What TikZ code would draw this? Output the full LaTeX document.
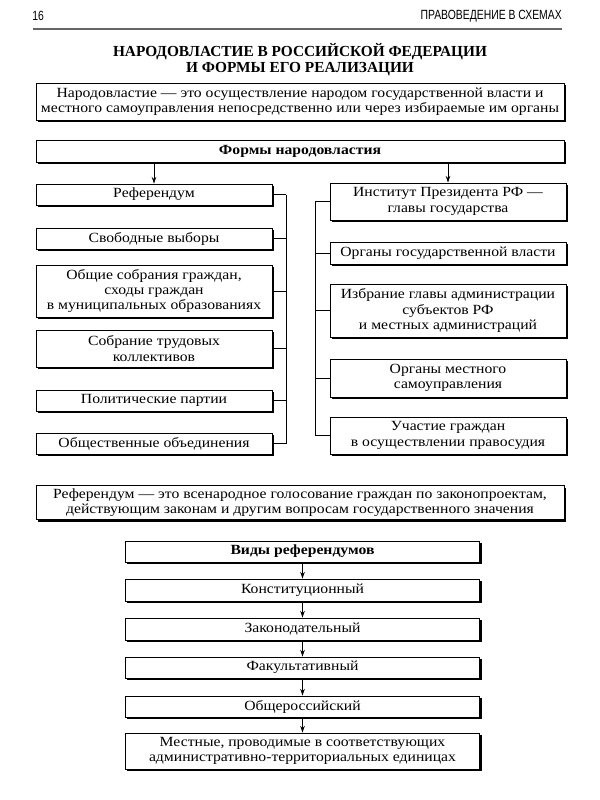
\documentclass[tikz,border=0pt]{standalone}
\usepackage{fontspec}
\setmainfont[FakeStretch=1.12]{Liberation Serif}
\newfontfamily\titlefont{Liberation Serif}
\newfontfamily\headfont[FakeStretch=0.78]{Liberation Sans}
\usetikzlibrary{shadows,arrows.meta}
\def\bodyfont{\fontsize{10.5}{11.6}\selectfont}
\tikzset{
	box/.style={draw, fill=white, line width=0.6pt, align=center, inner sep=0pt, font=\bodyfont,
		drop shadow={shadow xshift=1.6pt, shadow yshift=-1.6pt, opacity=1, fill=black}},
	wide/.style={box, minimum width=396pt},
	col/.style={box, minimum width=177pt},
	mid/.style={box, minimum width=266pt},
	ht/.style={minimum height=#1*0.75pt},
	conn/.style={line width=0.6pt},
	arr/.style={conn, -{Stealth[length=5pt,width=3.4pt]}},
}

\begin{document}
\begin{tikzpicture}[x=0.75pt, y=-0.75pt]
	%%%%% START %%%%%
	\useasboundingbox (0,0) rectangle (600,800);

	% page header
	\node[anchor=west, font=\headfont\fontsize{10}{12}\selectfont, inner sep=0pt] (page) at (32,16) {16};
	\node[anchor=east, font=\headfont\fontsize{10}{12}\selectfont, inner sep=0pt] (series) at (562,16) {ПРАВОВЕДЕНИЕ В СХЕМАХ};
	\draw[line width=1.5pt, black!60] (33,29) -- (562,29);

	\node[font=\titlefont\bfseries\fontsize{11.5}{12}\selectfont, align=center] (title) at (300,60)
		{НАРОДОВЛАСТИЕ В РОССИЙСКОЙ ФЕДЕРАЦИИ\\И ФОРМЫ ЕГО РЕАЛИЗАЦИИ};

	\node[wide, ht=37] (def) at (300,101.5)
		{Народовластие — это осуществление народом государственной власти и\\местного самоуправления непосредственно или через избираемые им органы};

	\node[wide, ht=22, font=\bfseries\bodyfont] (forms) at (300,151) {Формы народовластия};

	% left column
	\node[col, ht=21] (ref) at (154,194.5) {Референдум};
	\node[col, ht=21] (vyb) at (154,238.5) {Свободные выборы};
	\node[col, ht=52] (sobr) at (154,291) {Общие собрания граждан,\\сходы граждан\\в муниципальных образованиях};
	\node[col, ht=37] (trud) at (154,348.5) {Собрание трудовых\\коллективов};
	\node[col, ht=21] (part) at (154,400.5) {Политические партии};
	\node[col, ht=21] (obed) at (154,443.5) {Общественные объединения};

	% right column
	\node[col, ht=37] (prez) at (448,201.5) {Институт Президента РФ —\\главы государства};
	\node[col, ht=22] (organy) at (448,253) {Органы государственной власти};
	\node[col, ht=53] (izbr) at (448,310.5) {Избрание главы администрации\\субъектов РФ\\и местных администраций};
	\node[col, ht=38] (msu) at (448,378) {Органы местного\\самоуправления};
	\node[col, ht=37] (sud) at (448,435.5) {Участие граждан\\в осуществлении правосудия};

	\draw[arr] (forms.south -| ref) -- (ref.north);
	\draw[arr] (forms.south -| prez) -- (prez.north);

	\coordinate (lbar) at (286,0);
	\coordinate (rbar) at (315,0);
	\foreach \n in {ref,vyb,sobr,trud,part,obed}
		\draw[conn] (\n.east) -- (\n.east -| lbar);
	\draw[conn] (ref.east -| lbar) -- (obed.east -| lbar);
	\foreach \n in {prez,organy,izbr,msu,sud}
		\draw[conn] (\n.west) -- (\n.west -| rbar);
	\draw[conn] (prez.west -| rbar) -- (sud.west -| rbar);

	% referendum
	\node[wide, ht=34] (def2) at (300,502.5)
		{Референдум — это всенародное голосование граждан по законопроектам,\\действующим законам и другим вопросам государственного значения};

	\node[mid, ht=21, font=\bfseries\bodyfont] (vidy) at (302.5,551.5) {Виды референдумов};
	\node[mid, ht=22] (konst) at (302.5,590) {Конституционный};
	\node[mid, ht=22] (zak) at (302.5,629) {Законодательный};
	\node[mid, ht=21] (fak) at (302.5,667.5) {Факультативный};
	\node[mid, ht=21] (obsh) at (302.5,706.5) {Общероссийский};
	\node[mid, ht=36] (mest) at (302.5,751) {Местные, проводимые в соответствующих\\административно-территориальных единицах};

	\draw[arr] (vidy) -- (konst);
	\draw[arr] (konst) -- (zak);
	\draw[arr] (zak) -- (fak);
	\draw[arr] (fak) -- (obsh);
	\draw[arr] (obsh) -- (mest);

	%%%%% END %%%%%
\end{tikzpicture}
\end{document}
